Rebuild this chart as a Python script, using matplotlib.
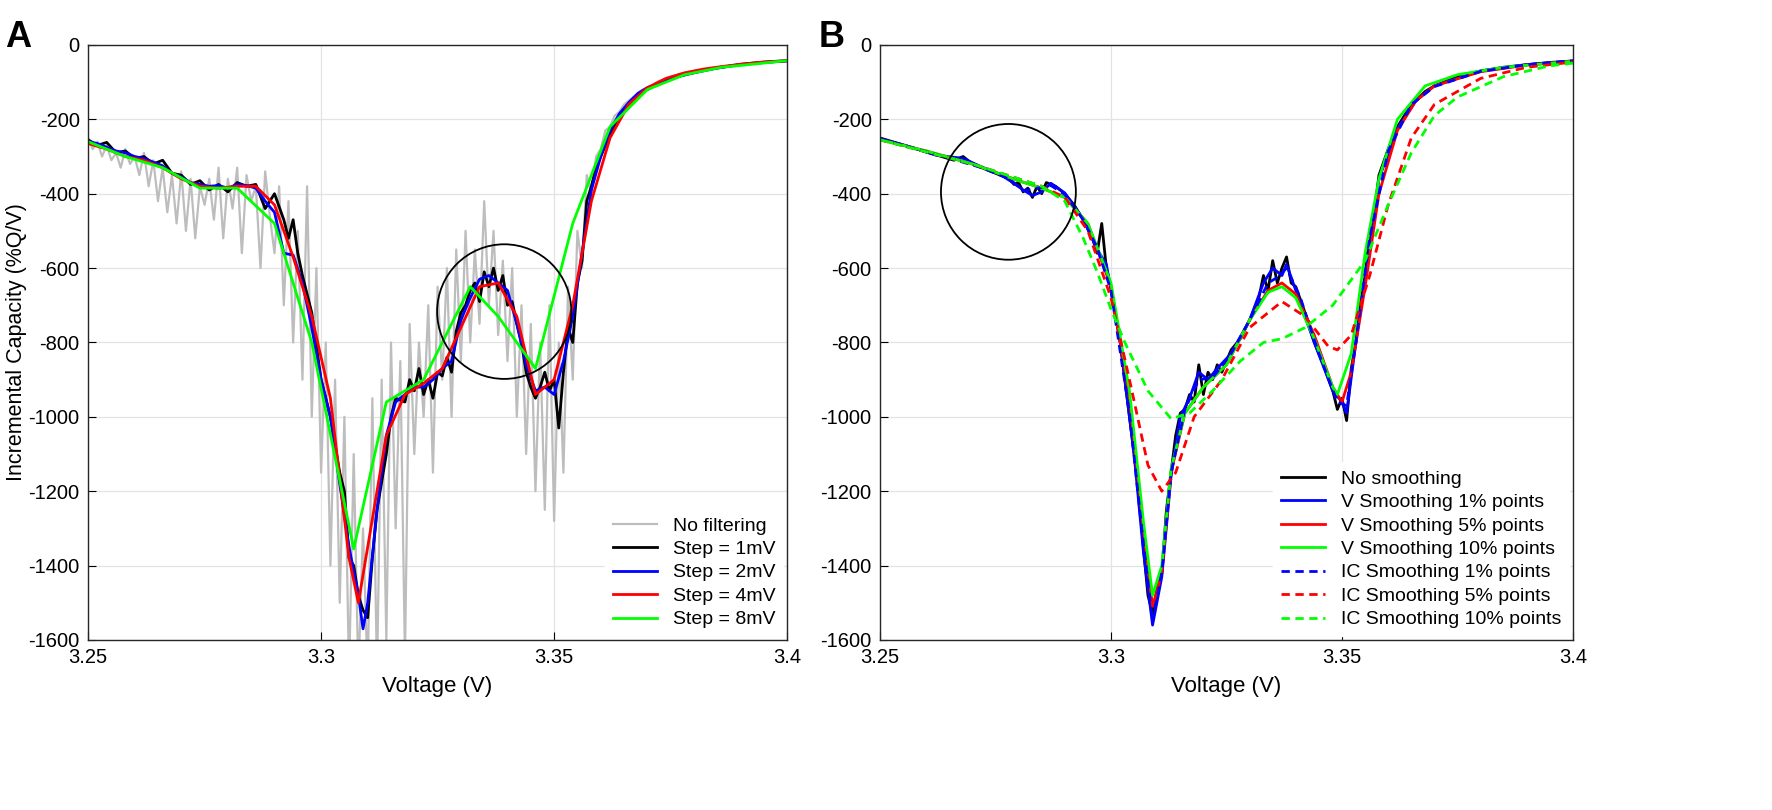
import numpy as np
import matplotlib
matplotlib.use("Agg")
import matplotlib.pyplot as plt
from matplotlib.patches import Ellipse

plt.rcParams['font.family'] = ['Liberation Sans', 'DejaVu Sans']
plt.rcParams['axes.unicode_minus'] = False

# ---------------- Panel A data ----------------
gray_v = np.round(np.arange(3.250, 3.4005, 0.001), 3)
gray_ic = [-250,-280,-260,-300,-270,-310,-290,-330,-280,-320,
           -300,-350,-290,-380,-310,-420,-330,-450,-350,-480,
           -340,-500,-360,-520,-380,-430,-360,-470,-330,-520,
           -360,-440,-330,-560,-350,-420,-380,-600,-340,-460,
           -560,-380,-700,-420,-800,-500,-900,-380,-1000,-600,
           -1150,-800,-1400,-900,-1500,-1000,-1700,-1100,-1700,-1300,
           -1700,-950,-1700,-900,-1600,-800,-1300,-850,-1650,-750,
           -1100,-800,-1000,-700,-1150,-650,-900,-600,-1000,-550,
           -850,-500,-800,-550,-750,-420,-700,-500,-780,-580,
           -850,-600,-1000,-700,-1100,-750,-1200,-800,-1250,-700,
           -1280,-800,-1150,-650,-900,-500,-600,-350,-400,-300,
           -280,-230,-220,-190,-180,-160,-150,-140,-130,-120,
           -115,-110,-100,-95,-90,-85,-82,-78,-75,-72,
           -70,-68,-66,-64,-62,-60,-58,-57,-56,-55,
           -54,-52,-51,-50,-49,-48,-47,-46,-45,-44,-43]

a_black = [(3.250,-255),(3.252,-270),(3.254,-262),(3.256,-290),(3.258,-285),(3.260,-305),(3.262,-300),(3.264,-320),
 (3.266,-310),(3.268,-345),(3.270,-350),(3.272,-375),(3.274,-365),(3.276,-390),(3.278,-375),(3.280,-395),(3.282,-370),
 (3.284,-380),(3.286,-375),(3.288,-440),(3.290,-400),(3.292,-470),(3.293,-520),(3.294,-470),(3.295,-560),(3.296,-620),
 (3.298,-720),(3.300,-900),(3.302,-1000),(3.304,-1150),(3.305,-1200),(3.306,-1380),(3.307,-1400),(3.308,-1480),
 (3.309,-1520),(3.310,-1540),(3.311,-1380),(3.312,-1250),(3.314,-1100),(3.315,-1000),(3.316,-950),(3.318,-960),
 (3.319,-900),(3.320,-930),(3.321,-870),(3.322,-940),(3.323,-900),(3.324,-950),(3.325,-880),(3.326,-890),(3.327,-840),
 (3.328,-880),(3.329,-770),(3.330,-720),(3.331,-700),(3.332,-660),(3.333,-640),(3.334,-690),(3.335,-610),(3.336,-650),
 (3.337,-600),(3.338,-660),(3.339,-620),(3.340,-700),(3.341,-690),(3.342,-750),(3.343,-800),(3.344,-880),(3.345,-920),
 (3.346,-950),(3.347,-920),(3.348,-880),(3.349,-930),(3.350,-900),(3.351,-1030),(3.352,-880),(3.353,-760),(3.354,-800),
 (3.355,-640),(3.356,-580),(3.357,-420),(3.358,-380),(3.359,-330),(3.360,-300),(3.362,-240),(3.364,-190),(3.366,-160),
 (3.368,-135),(3.370,-120),(3.374,-95),(3.378,-80),(3.382,-68),(3.386,-60),(3.390,-52),(3.395,-46),(3.400,-42)]

a_blue = [(3.250,-260),(3.252,-265),(3.254,-275),(3.256,-285),(3.258,-290),(3.260,-300),(3.262,-305),(3.264,-315),
 (3.266,-325),(3.268,-345),(3.270,-355),(3.272,-370),(3.274,-375),(3.276,-380),(3.278,-378),(3.280,-385),(3.282,-375),
 (3.284,-378),(3.286,-385),(3.288,-420),(3.290,-450),(3.292,-560),(3.294,-565),(3.296,-640),(3.298,-760),(3.300,-900),
 (3.302,-1000),(3.304,-1180),(3.306,-1350),(3.308,-1480),(3.309,-1570),(3.310,-1500),(3.312,-1250),(3.314,-1050),
 (3.316,-960),(3.318,-940),(3.320,-920),(3.322,-920),(3.324,-900),(3.326,-870),(3.328,-850),(3.330,-740),(3.332,-680),
 (3.334,-630),(3.336,-620),(3.338,-640),(3.340,-660),(3.342,-750),(3.344,-860),(3.346,-930),(3.348,-920),(3.350,-940),
 (3.352,-850),(3.354,-730),(3.356,-560),(3.358,-390),(3.360,-300),(3.362,-230),(3.364,-185),(3.366,-155),(3.368,-130),
 (3.370,-115),(3.375,-90),(3.380,-75),(3.385,-62),(3.390,-53),(3.395,-47),(3.400,-43)]

a_red = [(3.250,-265),(3.254,-280),(3.258,-300),(3.262,-310),(3.266,-330),(3.270,-360),(3.274,-380),(3.278,-385),
 (3.282,-380),(3.286,-380),(3.290,-430),(3.294,-570),(3.298,-730),(3.302,-950),(3.306,-1380),(3.308,-1500),
 (3.310,-1350),(3.314,-1050),(3.318,-940),(3.322,-910),(3.326,-870),(3.330,-760),(3.334,-650),(3.338,-640),
 (3.342,-730),(3.346,-940),(3.350,-900),(3.354,-700),(3.358,-420),(3.362,-250),(3.366,-160),(3.370,-115),
 (3.374,-90),(3.378,-75),(3.382,-65),(3.386,-58),(3.390,-52),(3.394,-47),(3.398,-44),(3.400,-43)]

a_green = [(3.250,-260),(3.258,-300),(3.266,-330),(3.274,-385),(3.282,-385),(3.290,-480),(3.298,-800),(3.307,-1355),
 (3.314,-960),(3.322,-900),(3.332,-650),(3.338,-730),(3.346,-870),(3.354,-480),(3.362,-220),(3.370,-120),
 (3.378,-80),(3.386,-60),(3.394,-50),(3.400,-42)]

# ---------------- Panel B data ----------------
b_black = [(3.250,-250),(3.254,-265),(3.258,-280),(3.262,-295),(3.266,-310),(3.268,-300),(3.270,-320),(3.272,-330),
 (3.274,-340),(3.276,-350),(3.278,-360),(3.279,-375),(3.280,-370),(3.281,-395),(3.282,-385),(3.283,-410),(3.284,-380),
 (3.285,-400),(3.286,-370),(3.287,-375),(3.288,-380),(3.290,-400),(3.292,-430),(3.294,-470),(3.296,-520),(3.297,-560),
 (3.298,-480),(3.299,-600),(3.300,-650),(3.302,-800),(3.304,-1000),(3.306,-1200),(3.307,-1350),(3.308,-1480),
 (3.309,-1530),(3.310,-1460),(3.311,-1420),(3.312,-1250),(3.313,-1150),(3.314,-1050),(3.315,-990),(3.316,-980),
 (3.317,-940),(3.318,-960),(3.319,-860),(3.320,-940),(3.321,-880),(3.322,-900),(3.323,-860),(3.324,-880),(3.326,-820),
 (3.328,-790),(3.330,-740),(3.332,-680),(3.333,-620),(3.334,-660),(3.335,-580),(3.336,-640),(3.337,-600),(3.338,-570),
 (3.339,-640),(3.340,-650),(3.342,-720),(3.344,-800),(3.346,-860),(3.348,-930),(3.349,-980),(3.350,-950),(3.351,-1010),
 (3.352,-870),(3.353,-800),(3.354,-700),(3.355,-620),(3.356,-500),(3.357,-450),(3.358,-350),(3.360,-280),(3.362,-220),
 (3.364,-180),(3.366,-150),(3.368,-125),(3.370,-110),(3.375,-85),(3.380,-70),(3.385,-60),(3.390,-53),(3.395,-47),(3.400,-43)]

b_blue = [(3.250,-252),(3.256,-272),(3.262,-296),(3.268,-305),(3.272,-328),(3.276,-348),(3.279,-372),(3.281,-390),
 (3.283,-405),(3.285,-395),(3.287,-372),(3.290,-398),(3.294,-468),(3.297,-550),(3.299,-590),(3.302,-800),(3.305,-1100),
 (3.307,-1360),(3.309,-1560),(3.311,-1430),(3.313,-1160),(3.315,-1000),(3.317,-950),(3.319,-880),(3.321,-900),
 (3.323,-870),(3.326,-830),(3.330,-740),(3.333,-640),(3.335,-600),(3.337,-620),(3.338,-590),(3.340,-660),(3.344,-800),
 (3.348,-930),(3.350,-960),(3.351,-990),(3.353,-800),(3.355,-630),(3.358,-360),(3.362,-225),(3.366,-150),(3.370,-110),
 (3.380,-70),(3.390,-53),(3.400,-43)]

b_red = [(3.250,-255),(3.260,-285),(3.270,-320),(3.280,-365),(3.285,-385),(3.290,-410),(3.295,-480),(3.300,-650),
 (3.304,-950),(3.307,-1300),(3.309,-1510),(3.311,-1420),(3.313,-1150),(3.316,-990),(3.320,-920),(3.325,-860),
 (3.330,-740),(3.334,-660),(3.337,-640),(3.340,-670),(3.344,-780),(3.348,-920),(3.350,-960),(3.352,-880),
 (3.355,-650),(3.358,-400),(3.362,-230),(3.366,-150),(3.370,-110),(3.380,-72),(3.390,-54),(3.400,-44)]

b_green = [(3.250,-255),(3.260,-285),(3.270,-320),(3.280,-365),(3.285,-385),(3.290,-410),(3.295,-480),(3.300,-640),
 (3.304,-930),(3.307,-1280),(3.309,-1480),(3.311,-1400),(3.313,-1140),(3.316,-990),(3.320,-920),(3.325,-860),
 (3.330,-740),(3.334,-665),(3.337,-650),(3.340,-680),(3.344,-790),(3.348,-920),(3.349,-940),(3.352,-830),
 (3.355,-560),(3.358,-360),(3.362,-200),(3.368,-110),(3.375,-80),(3.385,-60),(3.400,-44)]

b_blue_d = [(3.250,-252),(3.258,-280),(3.266,-308),(3.272,-330),(3.278,-360),(3.281,-392),(3.284,-385),(3.287,-378),
 (3.290,-402),(3.294,-470),(3.297,-545),(3.300,-660),(3.304,-990),(3.307,-1340),(3.309,-1550),(3.311,-1420),
 (3.313,-1150),(3.316,-980),(3.319,-900),(3.322,-895),(3.326,-830),(3.330,-740),(3.334,-640),(3.336,-625),(3.338,-600),
 (3.341,-680),(3.345,-830),(3.349,-960),(3.351,-970),(3.353,-800),(3.356,-520),(3.360,-285),(3.365,-160),(3.370,-112),
 (3.380,-71),(3.390,-53),(3.400,-43)]

b_red_d = [(3.250,-255),(3.270,-320),(3.285,-380),(3.290,-410),(3.295,-500),(3.300,-680),(3.304,-900),(3.308,-1130),
 (3.311,-1200),(3.314,-1150),(3.318,-1000),(3.324,-900),(3.330,-760),(3.337,-690),(3.342,-730),(3.347,-810),
 (3.349,-820),(3.352,-780),(3.356,-620),(3.360,-430),(3.365,-250),(3.370,-160),(3.380,-90),(3.390,-60),(3.400,-46)]

b_green_d = [(3.250,-255),(3.270,-320),(3.285,-380),(3.290,-420),(3.294,-520),(3.297,-610),(3.300,-710),(3.303,-800),
 (3.308,-930),(3.313,-1005),(3.317,-990),(3.322,-930),(3.328,-850),(3.333,-800),(3.337,-790),(3.342,-760),(3.348,-700),
 (3.355,-580),(3.360,-430),(3.365,-290),(3.370,-190),(3.375,-140),(3.385,-85),(3.395,-56),(3.400,-49)]

x_ticks = [3.25, 3.3, 3.35, 3.4]
x_tick_labels = ["3.25", "3.3", "3.35", "3.4"]
y_ticks = list(range(-1600, 1, 200))

BLACK, BLUE, RED, GREEN, GRAY = "#000000", "#0000ff", "#ff0000", "#00ff00", "#bdbdbd"

fig = plt.figure(figsize=(17.72, 8.10), dpi=100)
axA = fig.add_axes([0.0497, 0.2099, 0.3945, 0.7346])
axB = fig.add_axes([0.4966, 0.2099, 0.3911, 0.7346])

def xy(p):
    return [a for a, b in p], [b for a, b in p]

lw = 2.0
axA.plot(gray_v, gray_ic, color=GRAY, lw=1.6, label="No filtering")
axA.plot(*xy(a_black), color=BLACK, lw=lw, label="Step = 1mV")
axA.plot(*xy(a_blue), color=BLUE, lw=lw, label="Step = 2mV")
axA.plot(*xy(a_red), color=RED, lw=lw, label="Step = 4mV")
axA.plot(*xy(a_green), color=GREEN, lw=lw, label="Step = 8mV")

axB.plot(*xy(b_black), color=BLACK, lw=lw, label="No smoothing")
axB.plot(*xy(b_blue), color=BLUE, lw=lw, label="V Smoothing 1% points")
axB.plot(*xy(b_red), color=RED, lw=lw, label="V Smoothing 5% points")
axB.plot(*xy(b_green), color=GREEN, lw=lw, label="V Smoothing 10% points")
axB.plot(*xy(b_blue_d), color=BLUE, lw=lw, ls=(0, (3, 2)), label="IC Smoothing 1% points")
axB.plot(*xy(b_red_d), color=RED, lw=lw, ls=(0, (3, 2)), label="IC Smoothing 5% points")
axB.plot(*xy(b_green_d), color=GREEN, lw=lw, ls=(0, (3, 2)), label="IC Smoothing 10% points")

axA.add_patch(Ellipse((3.3393, -717), 0.0288, 362, fill=False, ec="black", lw=1.3, zorder=5))
axB.add_patch(Ellipse((3.2778, -395), 0.0292, 365, fill=False, ec="black", lw=1.3, zorder=5))

for ax in (axA, axB):
    ax.set_xlim(3.25, 3.4)
    ax.set_ylim(-1600, 0)
    ax.set_xticks(x_ticks)
    ax.set_xticklabels(x_tick_labels)
    ax.set_yticks(y_ticks)
    ax.grid(True, color="#e3e3e3", lw=0.9)
    ax.set_axisbelow(True)
    ax.tick_params(direction="in", labelsize=14.5, length=6, pad=6)
    for s in ax.spines.values():
        s.set_color("#262626")
        s.set_linewidth(1.0)
    ax.set_xlabel("Voltage (V)", fontsize=16, labelpad=6)
    ax.legend(loc="lower right", fontsize=14, frameon=True, fancybox=False,
              edgecolor="white", framealpha=1, handlelength=2.3,
              borderaxespad=0.2, labelspacing=0.3)

axA.set_ylabel("Incremental Capacity (%Q/V)", fontsize=15.5)
axA.yaxis.set_label_coords(-0.088, 0.5)
fig.text(0.003, 0.975, "A", fontsize=26, fontweight="bold", va="top")
fig.text(0.462, 0.975, "B", fontsize=26, fontweight="bold", va="top")

fig.savefig("out.png", dpi=100, facecolor="white")
